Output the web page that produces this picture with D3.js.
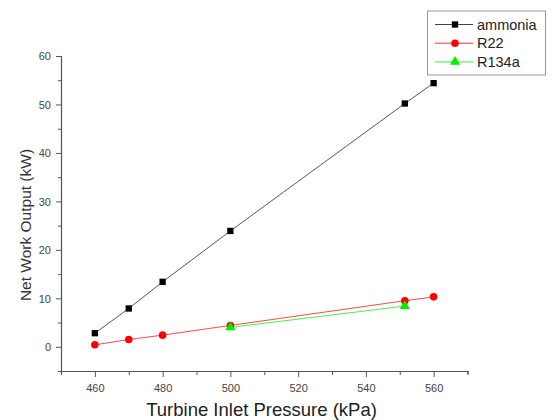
<!DOCTYPE html>
<html><head><meta charset="utf-8">
<script src="https://cdn.jsdelivr.net/npm/d3@7"></script>
<style>body{margin:0;background:#fff}svg{display:block}text{font-family:Arial,"Liberation Sans",sans-serif}</style>
</head><body><svg id="c" width="553" height="420"></svg>
<script>
const pressures = [460, 470, 480, 500, 551.5, 560];
const ammonia = [2.8, 7.9, 13.4, 23.9, 50.2, 54.4];
const r22 = [0.4, 1.5, 2.4, 4.4, 9.5, 10.3];
const r134aPressures = [500, 551.5];
const r134a = [4.0, 8.4];
const xTicks = [460, 480, 500, 520, 540, 560];
const yTicks = [0, 10, 20, 30, 40, 50, 60];
const seriesNames = ["ammonia", "R22", "R134a"];
const seriesColors = ["#000000", "#ff0000", "#00ee00"];
const lineColors = ["#444444", "#ff3333", "#33ee33"];

const svg = d3.select("#c");
const x = d3.scaleLinear().domain([450, 570]).range([61, 467.5]);
const y = d3.scaleLinear().domain([-5, 60]).range([371, 56]);

const tickColor = "#444";
// x axis
const xg = svg.append("g").attr("transform", `translate(0,${y(-5)})`);
xg.call(d3.axisBottom(x).tickValues(d3.range(450, 571, 10)).tickSize(3).tickFormat(""));
xg.call(g => g.selectAll(".tick line").attr("y2", d => d % 20 === 0 ? 6 : 4));
xg.selectAll(".tick").filter(d => xTicks.includes(d)).append("text")
  .attr("y", 21).attr("text-anchor", "middle").attr("fill", tickColor)
  .style("font-size", "11px").text(d => d);
// y axis
const yg = svg.append("g").attr("transform", `translate(${x(450)},0)`);
yg.call(d3.axisLeft(y).tickValues(d3.range(-5, 61, 5)).tickSize(3).tickFormat(""));
yg.call(g => g.selectAll(".tick line").attr("x2", d => d % 10 === 0 ? -5 : -3));
yg.selectAll(".tick").filter(d => yTicks.includes(d)).append("text")
  .attr("x", -10).attr("dy", "0.35em").attr("text-anchor", "end").attr("fill", tickColor)
  .style("font-size", "11px").text(d => d);
svg.selectAll(".domain").attr("stroke", "#555").attr("stroke-width", 1.2);
svg.selectAll(".tick line").attr("stroke", "#555");

// axis titles
svg.append("text").attr("x", 261.5).attr("y", 416).attr("text-anchor", "middle")
  .attr("fill", "#222").style("font-size", "18.5px").text("Turbine Inlet Pressure (kPa)");
svg.append("text").attr("transform", "translate(30.5,225) rotate(-90)").attr("text-anchor", "middle")
  .attr("fill", "#333").style("font-size", "15.5px").text("Net Work Output (kW)");

const line = d3.line().x(d => x(d[0])).y(d => y(d[1]));
const data = [
  pressures.map((p, i) => [p, ammonia[i]]),
  pressures.map((p, i) => [p, r22[i]]),
  r134aPressures.map((p, i) => [p, r134a[i]])
];
const symbols = [d3.symbolSquare, d3.symbolCircle, d3.symbolTriangle];
const sizes = [40, 45, 45];

data.forEach((pts, k) => {
  svg.append("path").datum(pts).attr("d", line).attr("fill", "none")
    .attr("stroke", lineColors[k]).attr("stroke-width", 0.9);
});
data.forEach((pts, k) => {
  svg.selectAll(null).data(pts).enter().append("path")
    .attr("transform", d => `translate(${x(d[0])},${y(d[1])})`)
    .attr("d", d3.symbol().type(symbols[k]).size(sizes[k]))
    .attr("fill", seriesColors[k]);
});

// legend
const lg = svg.append("g");
lg.append("rect").attr("x", 427.5).attr("y", 11).attr("width", 118).attr("height", 64)
  .attr("fill", "#fff").attr("stroke", "#999").attr("stroke-width", 1);
seriesNames.forEach((n, k) => {
  const ly = 24.5 + k * 18.7;
  lg.append("line").attr("x1", 435).attr("x2", 473).attr("y1", ly).attr("y2", ly)
    .attr("stroke", lineColors[k]).attr("stroke-width", 1);
  lg.append("path").attr("transform", `translate(455,${ly})`)
    .attr("d", d3.symbol().type(symbols[k]).size(sizes[k])).attr("fill", seriesColors[k]);
  lg.append("text").attr("x", 477).attr("y", ly).attr("dy", "0.35em")
    .attr("fill", "#222").style("font-size", "14.5px").text(n);
});
</script></body></html>
